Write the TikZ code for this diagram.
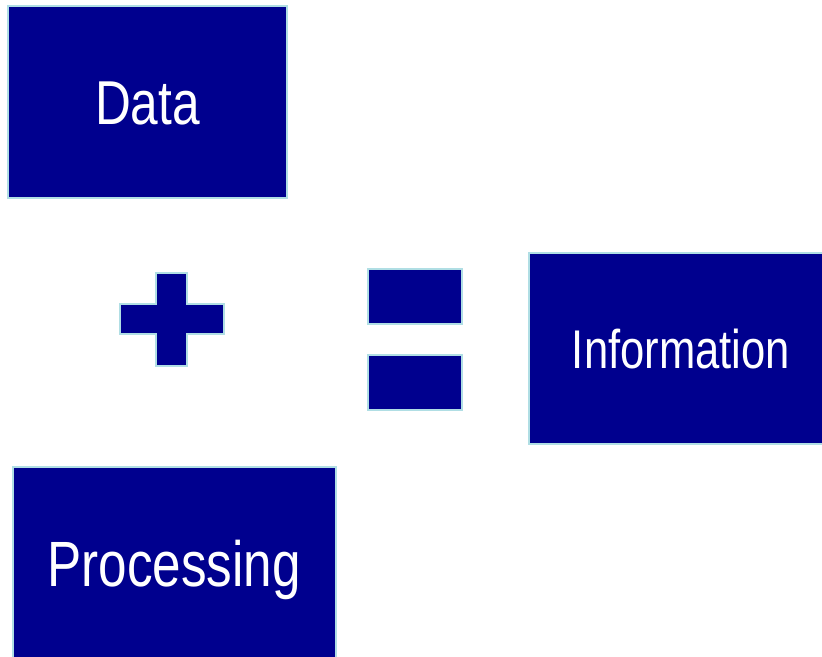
\documentclass[tikz,border=0pt]{standalone}
\usepackage{fontspec}
\setmainfont[FakeStretch=0.8]{Liberation Sans}
\usepackage{xcolor}
\usepackage{tikz}

\definecolor{boxblue}{RGB}{0,0,142}
\definecolor{edgeblue}{RGB}{176,222,228}

\tikzset{
  block/.style={draw=edgeblue,fill=boxblue,line width=2pt,text=white,
    inner sep=0pt,text depth=0pt},
  sign/.style={draw=edgeblue,fill=boxblue,line width=1.8pt}
}

\begin{document}
\begin{tikzpicture}[x=1pt,y=-1pt]
\useasboundingbox (0,0) rectangle (822,656);

\node[block,minimum width=279pt,minimum height=192pt,text height=44pt,
  font=\fontsize{62}{70}\selectfont] (data) at (147.5,102) {Data};
\node[block,minimum width=304pt,minimum height=191pt,text height=39pt,
  font=\fontsize{54.5}{60}\selectfont] (info) at (681,348.5) {Information};
\node[block,minimum width=323pt,minimum height=194pt,text height=44pt,
  font=\fontsize{64}{70}\selectfont] (proc) at (174,564) {Processing};

% plus
\draw[sign] (156,273) -- (187,273) -- (187,304) -- (224,304) -- (224,334)
  -- (187,334) -- (187,366) -- (156,366) -- (156,334) -- (120,334)
  -- (120,304) -- (156,304) -- cycle;

% equals
\draw[sign] (368,269) rectangle (462,324);
\draw[sign] (368,355) rectangle (462,410);
\end{tikzpicture}
\end{document}
